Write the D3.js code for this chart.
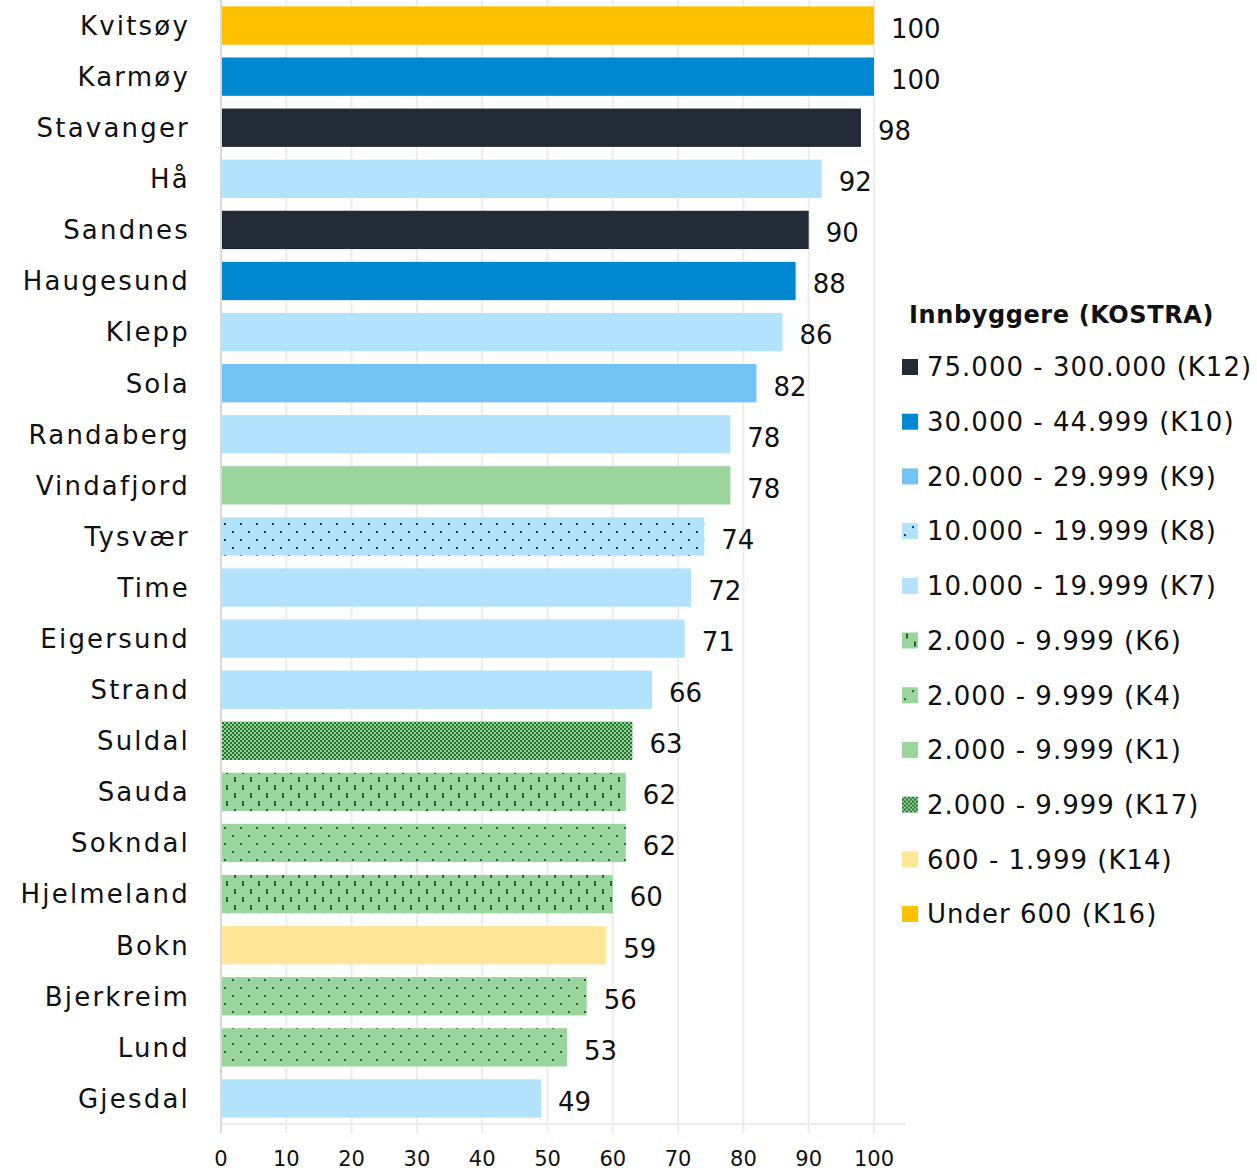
<!DOCTYPE html>
<html>
<head>
<meta charset="utf-8">
<script src="https://cdn.jsdelivr.net/npm/d3@7"></script>
<style>
  html, body { margin: 0; padding: 0; background: #fff; }
  svg { display: block; font-family: "DejaVu Sans", sans-serif; }
</style>
</head>
<body>
<svg id="chart" width="1257" height="1171"></svg>
<script>
// Share of inhabitants (%) per municipality, with its KOSTRA group
const municipalities = ["Kvitsøy","Karmøy","Stavanger","Hå","Sandnes","Haugesund","Klepp","Sola",
  "Randaberg","Vindafjord","Tysvær","Time","Eigersund","Strand","Suldal","Sauda","Sokndal",
  "Hjelmeland","Bokn","Bjerkreim","Lund","Gjesdal"];
const values = [100,100,98,92,90,88,86,82,78,78,74,72,71,66,63,62,62,60,59,56,53,49];
const groups = ["K16","K10","K12","K7","K12","K10","K7","K9","K7","K1","K8","K7","K7","K7",
  "K17","K6","K4","K6","K14","K4","K4","K7"];

// Legend entries (in display order)
const legendKeys = ["K12","K10","K9","K8","K7","K6","K4","K1","K17","K14","K16"];
const legendLabels = ["75.000 - 300.000 (K12)","30.000 - 44.999 (K10)","20.000 - 29.999 (K9)",
  "10.000 - 19.999 (K8)","10.000 - 19.999 (K7)","2.000 - 9.999 (K6)","2.000 - 9.999 (K4)",
  "2.000 - 9.999 (K1)","2.000 - 9.999 (K17)","600 - 1.999 (K14)","Under 600 (K16)"];
const legendTitle = "Innbyggere (KOSTRA)";
const xTicks = [0,10,20,30,40,50,60,70,80,90,100];

const svg = d3.select("#chart");
const defs = svg.append("defs");

const lightBlue = "#b3e2fd", green = "#9ad59e", darkGreen = "#23672d", navyDot = "#0f3d63";

// Fill patterns for the hatched groups
function dotPattern(id, bg, fg) {
  const p = defs.append("pattern").attr("id", id).attr("patternUnits", "userSpaceOnUse")
    .attr("width", 16).attr("height", 16);
  p.append("rect").attr("width", 16).attr("height", 16).attr("fill", bg);
  p.append("rect").attr("x", 8).attr("y", 3).attr("width", 2).attr("height", 2).attr("fill", fg);
  p.append("rect").attr("x", 0).attr("y", 11).attr("width", 2).attr("height", 2).attr("fill", fg);
}
function dashPattern(id, bg, fg) {
  const p = defs.append("pattern").attr("id", id).attr("patternUnits", "userSpaceOnUse")
    .attr("width", 16).attr("height", 16);
  p.append("rect").attr("width", 16).attr("height", 16).attr("fill", bg);
  p.append("rect").attr("x", 2).attr("y", 1).attr("width", 2).attr("height", 5).attr("fill", fg);
  p.append("rect").attr("x", 10).attr("y", 9).attr("width", 2).attr("height", 5).attr("fill", fg);
}
function checkPattern(id, bg, fg) {
  const p = defs.append("pattern").attr("id", id).attr("patternUnits", "userSpaceOnUse")
    .attr("width", 4).attr("height", 4);
  p.append("rect").attr("width", 4).attr("height", 4).attr("fill", bg);
  p.append("rect").attr("x", 0).attr("y", 0).attr("width", 2).attr("height", 2).attr("fill", fg);
  p.append("rect").attr("x", 2).attr("y", 2).attr("width", 2).attr("height", 2).attr("fill", fg);
}
dotPattern("pK8", lightBlue, navyDot);
dotPattern("pK4", green, darkGreen);
dashPattern("pK6", green, darkGreen);
checkPattern("pK17", "#8fcf94", "#2a7434");

const fills = {
  K16: "#ffc000", K10: "#0288d1", K12: "#222a37", K9: "#74c2f3", K7: lightBlue,
  K8: "url(#pK8)", K1: green, K4: "url(#pK4)", K6: "url(#pK6)", K17: "url(#pK17)", K14: "#ffe699"
};

const x = d3.scaleLinear().domain([0, 100]).range([221, 874]);
const y = d3.scaleBand().domain(municipalities).range([0, 1124]).paddingInner(0.25).paddingOuter(0.125);
const axisY = 1124;

// Vertical gridlines (they run past the axis line as tick marks)
svg.append("g").selectAll("line").data(xTicks.slice(1)).join("line")
  .attr("x1", d => x(d)).attr("x2", d => x(d))
  .attr("y1", 0).attr("y2", axisY + 9)
  .attr("stroke", "#ececec").attr("stroke-width", 2);

// Horizontal axis line
svg.append("line").attr("x1", x(0)).attr("x2", 906).attr("y1", axisY).attr("y2", axisY)
  .attr("stroke", "#ececec").attr("stroke-width", 2);

// Bars
const rows = municipalities.map((m, i) => ({ name: m, value: values[i], group: groups[i] }));
svg.append("g").selectAll("rect").data(rows).join("rect")
  .attr("x", x(0)).attr("y", d => y(d.name))
  .attr("width", d => x(d.value) - x(0)).attr("height", y.bandwidth())
  .attr("fill", d => fills[d.group]);

// Category axis line
svg.append("line").attr("x1", x(0)).attr("x2", x(0)).attr("y1", 0).attr("y2", axisY + 9)
  .attr("stroke", "#d9d9d9").attr("stroke-width", 2);

// Category labels
svg.append("g").selectAll("text").data(rows).join("text")
  .attr("x", 190).attr("y", d => y(d.name) + y.bandwidth() / 2)
  .attr("dy", "0.36em").attr("text-anchor", "end")
  .attr("font-size", 26).attr("letter-spacing", 2.2).attr("fill", "#111")
  .text(d => d.name);

// Value labels
svg.append("g").selectAll("text").data(rows).join("text")
  .attr("x", d => x(d.value) + 17).attr("y", d => y(d.name) + y.bandwidth() / 2 + 3)
  .attr("dy", "0.36em").attr("font-size", 26).attr("fill", "#111")
  .text(d => d.value);

// X tick labels
svg.append("g").selectAll("text").data(xTicks).join("text")
  .attr("x", d => x(d)).attr("y", 1158).attr("dy", "0.36em").attr("text-anchor", "middle")
  .attr("font-size", 21).attr("fill", "#111")
  .text(d => d);

// Legend
const legend = svg.append("g");
legend.append("text").attr("x", 909).attr("y", 314).attr("dy", "0.36em")
  .attr("font-size", 24).attr("font-weight", "bold").attr("letter-spacing", 0.6).attr("fill", "#111")
  .text(legendTitle);
const ly = d3.scalePoint().domain(legendKeys).range([367, 914]);
const items = legend.selectAll("g.item").data(legendKeys).join("g").attr("class", "item")
  .attr("transform", d => `translate(0,${ly(d)})`);
items.append("rect").attr("x", 902).attr("y", -8).attr("width", 16).attr("height", 16)
  .attr("fill", d => fills[d]);
items.append("text").attr("x", 927).attr("y", 0).attr("dy", "0.36em")
  .attr("font-size", 26).attr("letter-spacing", 1.0).attr("fill", "#111")
  .text((d, i) => legendLabels[i]);
</script>
</body>
</html>
